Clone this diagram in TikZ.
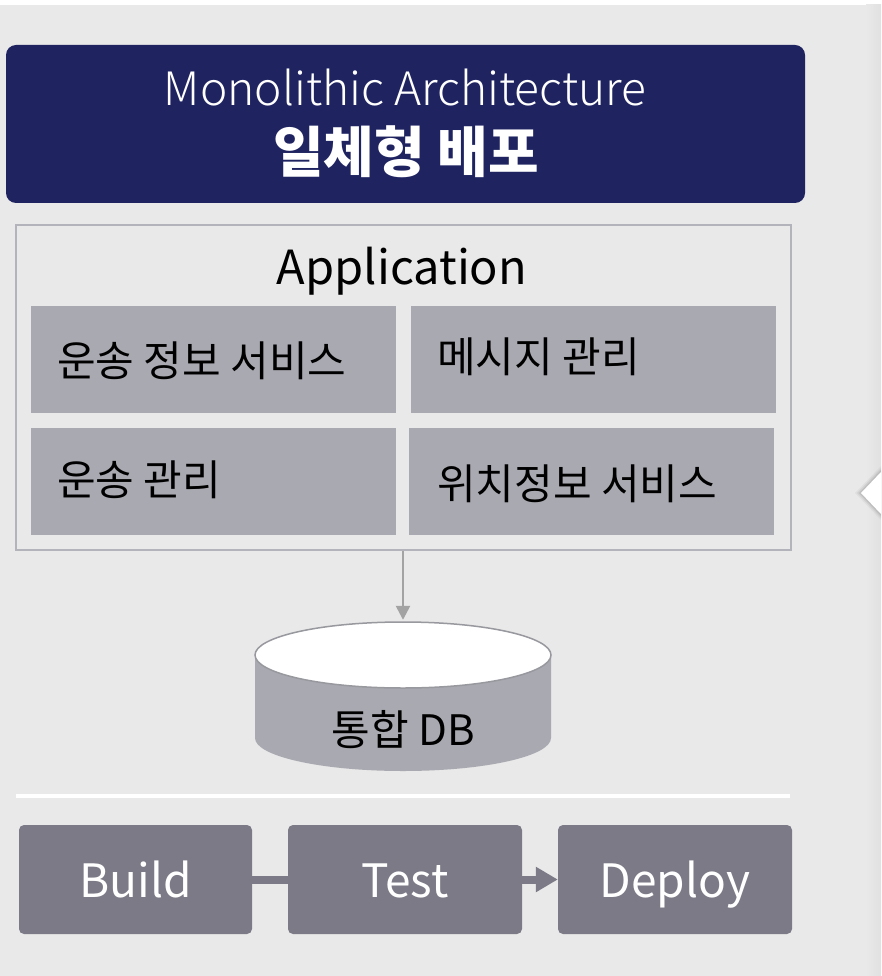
\documentclass[tikz,border=0pt]{standalone}
\usepackage{fontspec}
\setmainfont{Noto Sans CJK KR}
\newfontfamily\lightfont{Noto Sans CJK KR Light}
\usetikzlibrary{arrows.meta}

\definecolor{bgc}{HTML}{E9E9E9}
\definecolor{navy}{HTML}{1F2461}
\definecolor{frame}{HTML}{B3B3BB}
\definecolor{cell}{HTML}{A9A9B1}
\definecolor{stage}{HTML}{7B7A86}
\definecolor{wire}{HTML}{A3A3A3}

\newcommand{\fs}[1]{\fontsize{#1}{#1}\selectfont}

\tikzset{
  headerbox/.style={fill=navy, rounded corners=10pt, inner sep=0pt},
  appbox/.style={draw=frame, line width=2pt, fill=bgc, inner sep=0pt},
  cellbox/.style={fill=cell, inner sep=0pt, minimum width=365pt, minimum height=107pt},
  celltext/.style={anchor=base west, inner sep=0pt, font=\fs{42}, text=black},
  stagebox/.style={fill=stage, rounded corners=5pt, inner sep=0pt, minimum height=109pt,
    text height=40pt, text depth=5pt, font=\fs{46}, text=white},
  link/.style={draw=stage, line width=8pt},
}

\begin{document}
\begin{tikzpicture}[x=1pt, y=-1pt]
  \useasboundingbox (0,0) rectangle (881,976);
  % canvas
  \fill[bgc] (0,0) rectangle (881,976);
  \fill[white] (0,0) rectangle (881,5);
  \shade[left color=bgc, right color=black!12] (866,5) rectangle (881,976);

  % side pointer with soft shadow
  \foreach \d/\o in {6/0.04, 4/0.06, 2/0.08}{
    \fill[black, opacity=\o] (881,472-\d) -- (861-\d,493) -- (881,514+\d) -- cycle;
  }
  \fill[white] (881,472) -- (861,493) -- (881,514) -- cycle;

  % header
  \node[headerbox, minimum width=799pt, minimum height=158pt] (hdr) at (405.5,124) {};
  \node[anchor=base, inner sep=0pt, text=white, font=\lightfont\fs{46}] (title) at (405,106) {Monolithic Architecture};
  \node[anchor=base, inner sep=0pt, text=white, font=\bfseries\fs{55}] (subtitle) at (406,173) {일체형 배포};

  % application frame
  \node[appbox, minimum width=775pt, minimum height=325pt] (app) at (403.5,387.5) {};
  \node[anchor=base, inner sep=0pt, font=\fs{47}] (apptitle) at (402,284) {Application};

  \node[cellbox] (s1) at (213.5,359.5) {};
  \node[cellbox] (s2) at (593.5,359.5) {};
  \node[cellbox] (s3) at (213.5,481.5) {};
  \node[cellbox] (s4) at (591.5,481.5) {};
  \node[celltext] (t1) at (57,376) {운송 정보 서비스};
  \node[celltext] (t2) at (437,372) {메시지 관리};
  \node[celltext] (t3) at (57,495) {운송 관리};
  \node[celltext] (t4) at (437,499) {위치정보 서비스};

  % database cylinder
  \node[minimum width=296pt, minimum height=150pt, inner sep=0pt] (db) at (403,695) {};
  \fill[cell] (255,655) -- (255,738) arc[start angle=180, end angle=0, x radius=148, y radius=33] -- (551,655) -- cycle;
  \draw[fill=white, draw=cell!90!black, line width=1.5pt] (403,655) ellipse[x radius=148, y radius=33];
  \node[anchor=base, inner sep=0pt, font=\fs{42}] (dbtext) at (403,745) {통합 DB};

  \draw[wire, line width=2.5pt, -{Triangle[length=14pt, width=14pt]}] (app.south -| db.north) -- (db.north);

  % divider
  \draw[white, line width=4pt] (16,796) -- (790,796);

  % pipeline
  \node[stagebox, minimum width=233pt] (build) at (135.5,879.5) {Build};
  \node[stagebox, minimum width=234pt] (test) at (405,879.5) {Test};
  \node[stagebox, minimum width=234pt] (deploy) at (675,879.5) {Deploy};
  \draw[link] (build.east) -- (test.west);
  \draw[link, -{Triangle[length=22pt, width=24pt]}] (test.east) -- (deploy.west);
\end{tikzpicture}
\end{document}
